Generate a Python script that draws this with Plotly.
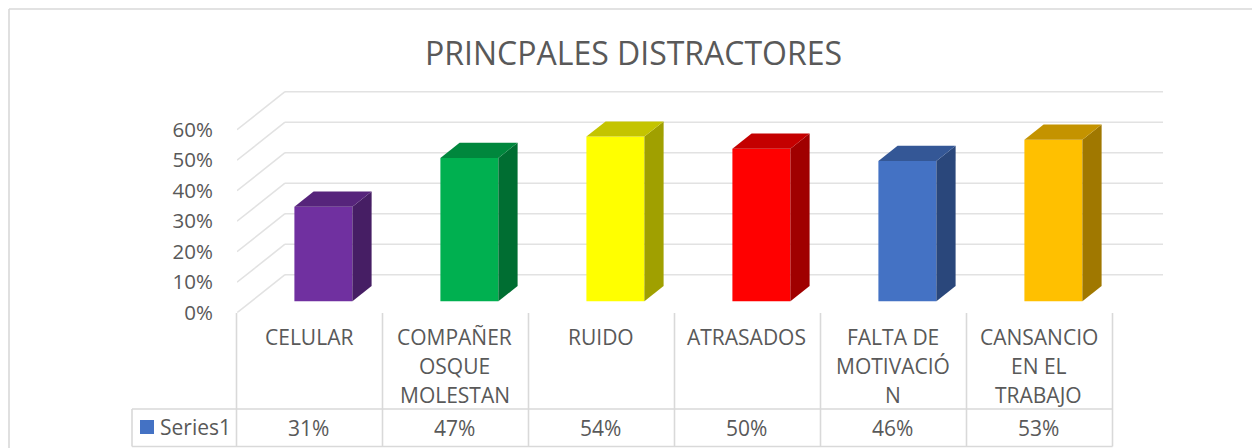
import plotly.graph_objects as go

# ---- data ----
categories = ["CELULAR", "COMPAÑEROSQUE MOLESTAN", "RUIDO", "ATRASADOS", "FALTA DE MOTIVACIÓN", "CANSANCIO EN EL TRABAJO"]
category_lines = [["CELULAR"], ["COMPAÑER", "OSQUE", "MOLESTAN"], ["RUIDO"], ["ATRASADOS"],
                  ["FALTA DE", "MOTIVACIÓ", "N"], ["CANSANCIO", "EN EL", "TRABAJO"]]
values = [31, 47, 54, 50, 46, 53]
tick_values = [0, 10, 20, 30, 40, 50, 60]
series_name = "Series1"
title_text = "PRINCPALES DISTRACTORES"

# ---- style ----
bar_colors = ["#7030A0", "#00B050", "#FFFF00", "#FF0000", "#4472C4", "#FFC000"]
TEXT = "#595959"
GRID = "#E2E2E2"
FONT = "Open Sans"
W, H = 1252, 448
PX_X0, PX_X1 = 237, 1163     # plot floor-front left, back-wall right
PX_Y0 = 312.7                # 0% on the front plane
PX_PER_UNIT_Y = 3.05
PX_PER_CAT = 146
DEPTH_DX_PX, DEPTH_DY_PX = 48, 38
BAR_W_PX = 58
BAR_SHIFT_PX = -1
TEXT_SHIFT_PX = -1.5
BAR_D0, BAR_D1 = 0.30, 0.70  # bar depth span as share of the floor depth
TABLE_SIZE = 21

dx_u = DEPTH_DX_PX / PX_PER_CAT
dy_u = DEPTH_DY_PX / PX_PER_UNIT_Y
bw = BAR_W_PX / PX_PER_CAT
PX_TOP = 88
y_max = (PX_Y0 - PX_TOP) / PX_PER_UNIT_Y
x_min = -0.5
x_max = x_min + (PX_X1 - PX_X0) / PX_PER_CAT


def shade(hex_color, f):
    r, g, b = (int(hex_color[i:i + 2], 16) for i in (1, 3, 5))
    return f"rgb({int(r * f)},{int(g * f)},{int(b * f)})"


def px(x):
    return x / W


def py(y):
    return 1 - y / H


fig = go.Figure()
shapes = []
annotations = []

# walls' gridlines (below bars), from tick values
for t in tick_values:
    shapes.append(dict(type="line", layer="below", xref="x", yref="y",
                       x0=x_min, y0=t, x1=x_min + dx_u, y1=t + dy_u,
                       line=dict(color=GRID, width=1.6)))
    shapes.append(dict(type="line", layer="below", xref="x", yref="y",
                       x0=x_min + dx_u, y0=t + dy_u, x1=x_max, y1=t + dy_u,
                       line=dict(color=GRID, width=1.6)))

# front faces
x0s = [i + BAR_D0 * dx_u + BAR_SHIFT_PX / PX_PER_CAT for i in range(len(values))]
base = BAR_D0 * dy_u
fig.add_trace(go.Bar(x=x0s, y=values, base=base, width=bw, name=series_name,
                     marker=dict(color=bar_colors, line=dict(width=0)), showlegend=False,
                     hovertemplate="%{y}%<extra></extra>"))

# side and top faces
depth_x = (BAR_D1 - BAR_D0) * dx_u
depth_y = (BAR_D1 - BAR_D0) * dy_u
for xc, v, col in zip(x0s, values, bar_colors):
    xl, xr = xc - bw / 2, xc + bw / 2
    ytop = base + v
    fig.add_trace(go.Scatter(x=[xr, xr + depth_x, xr + depth_x, xr, xr],
                             y=[base, base + depth_y, ytop + depth_y, ytop, base],
                             mode="lines", fill="toself", fillcolor=shade(col, 0.63),
                             line=dict(width=0), hoverinfo="skip", showlegend=False))
    fig.add_trace(go.Scatter(x=[xl, xr, xr + depth_x, xl + depth_x, xl],
                             y=[ytop, ytop, ytop + depth_y, ytop + depth_y, ytop],
                             mode="lines", fill="toself", fillcolor=shade(col, 0.77),
                             line=dict(width=0), hoverinfo="skip", showlegend=False))

# data table
T_TOP, T_MID, T_BOT = 313, 409, 446.5
T_LEFT = 132
TBL = "#D9D9D9"
n = len(values)


def tline(x0, y0, x1, y1):
    shapes.append(dict(type="line", xref="paper", yref="paper", x0=px(x0), y0=py(y0), x1=px(x1), y1=py(y1),
                       line=dict(color=TBL, width=1.6)))


for i in range(n + 1):
    xp = 236.5 + i * PX_PER_CAT
    tline(xp, T_TOP, xp, T_BOT)
tline(T_LEFT, T_MID, 236.5 + n * PX_PER_CAT, T_MID)
tline(T_LEFT, T_BOT, 236.5 + n * PX_PER_CAT, T_BOT)
tline(T_LEFT, T_MID, T_LEFT, T_BOT)

LINE_Y = [337, 366, 395]
tx = TEXT_SHIFT_PX / PX_PER_CAT
for i, (lines, v) in enumerate(zip(category_lines, values)):
    for j, s in enumerate(lines):
        annotations.append(dict(x=i + tx, xref="x", y=py(LINE_Y[j]), yref="paper", text=s, showarrow=False,
                                xanchor="center", yanchor="middle",
                                font=dict(family=FONT, size=TABLE_SIZE, color=TEXT)))
    annotations.append(dict(x=i + tx, xref="x", y=py(427.5), yref="paper", text=f"{v}%", showarrow=False,
                            xanchor="center", yanchor="middle",
                            font=dict(family=FONT, size=TABLE_SIZE, color=TEXT)))

# legend key
shapes.append(dict(type="rect", xref="paper", yref="paper", x0=px(140), x1=px(154), y0=py(420), y1=py(434),
                   fillcolor="#4472C4", line=dict(width=0)))
annotations.append(dict(x=px(158), xref="paper", y=py(427), yref="paper", text=series_name, showarrow=False,
                        xanchor="left", yanchor="middle", font=dict(family=FONT, size=TABLE_SIZE, color=TEXT)))

# title
annotations.append(dict(x=px(633), xref="paper", y=py(53), yref="paper", text=title_text, showarrow=False,
                        xanchor="center", yanchor="middle", font=dict(family=FONT, size=32, color=TEXT)))

# chart border
shapes.append(dict(type="line", xref="paper", yref="paper", x0=px(9), y0=py(9), x1=px(9), y1=0,
                   line=dict(color=TBL, width=1.6)))
shapes.append(dict(type="line", xref="paper", yref="paper", x0=px(9), y0=py(9), x1=1, y1=py(9),
                   line=dict(color=TBL, width=1.6)))

fig.update_layout(
    width=W, height=H, autosize=False,
    margin=dict(l=0, r=0, t=0, b=0, autoexpand=False),
    paper_bgcolor="white", plot_bgcolor="white",
    shapes=shapes, annotations=annotations, showlegend=False,
    xaxis=dict(domain=[px(PX_X0), px(PX_X1)], range=[x_min, x_max], visible=False),
    yaxis=dict(domain=[py(PX_Y0), py(PX_TOP)], range=[0, y_max], tickvals=tick_values,
               ticktext=[f"{t}%" for t in tick_values], showgrid=False, zeroline=False, showline=False,
               ticks="", ticklabelstandoff=23, tickfont=dict(family=FONT, size=20.5, color=TEXT)),
)

fig.write_html("out.html", config=dict(displayModeBar=False),
               post_script="document.body.style.margin='0';document.documentElement.style.overflow='hidden';")
